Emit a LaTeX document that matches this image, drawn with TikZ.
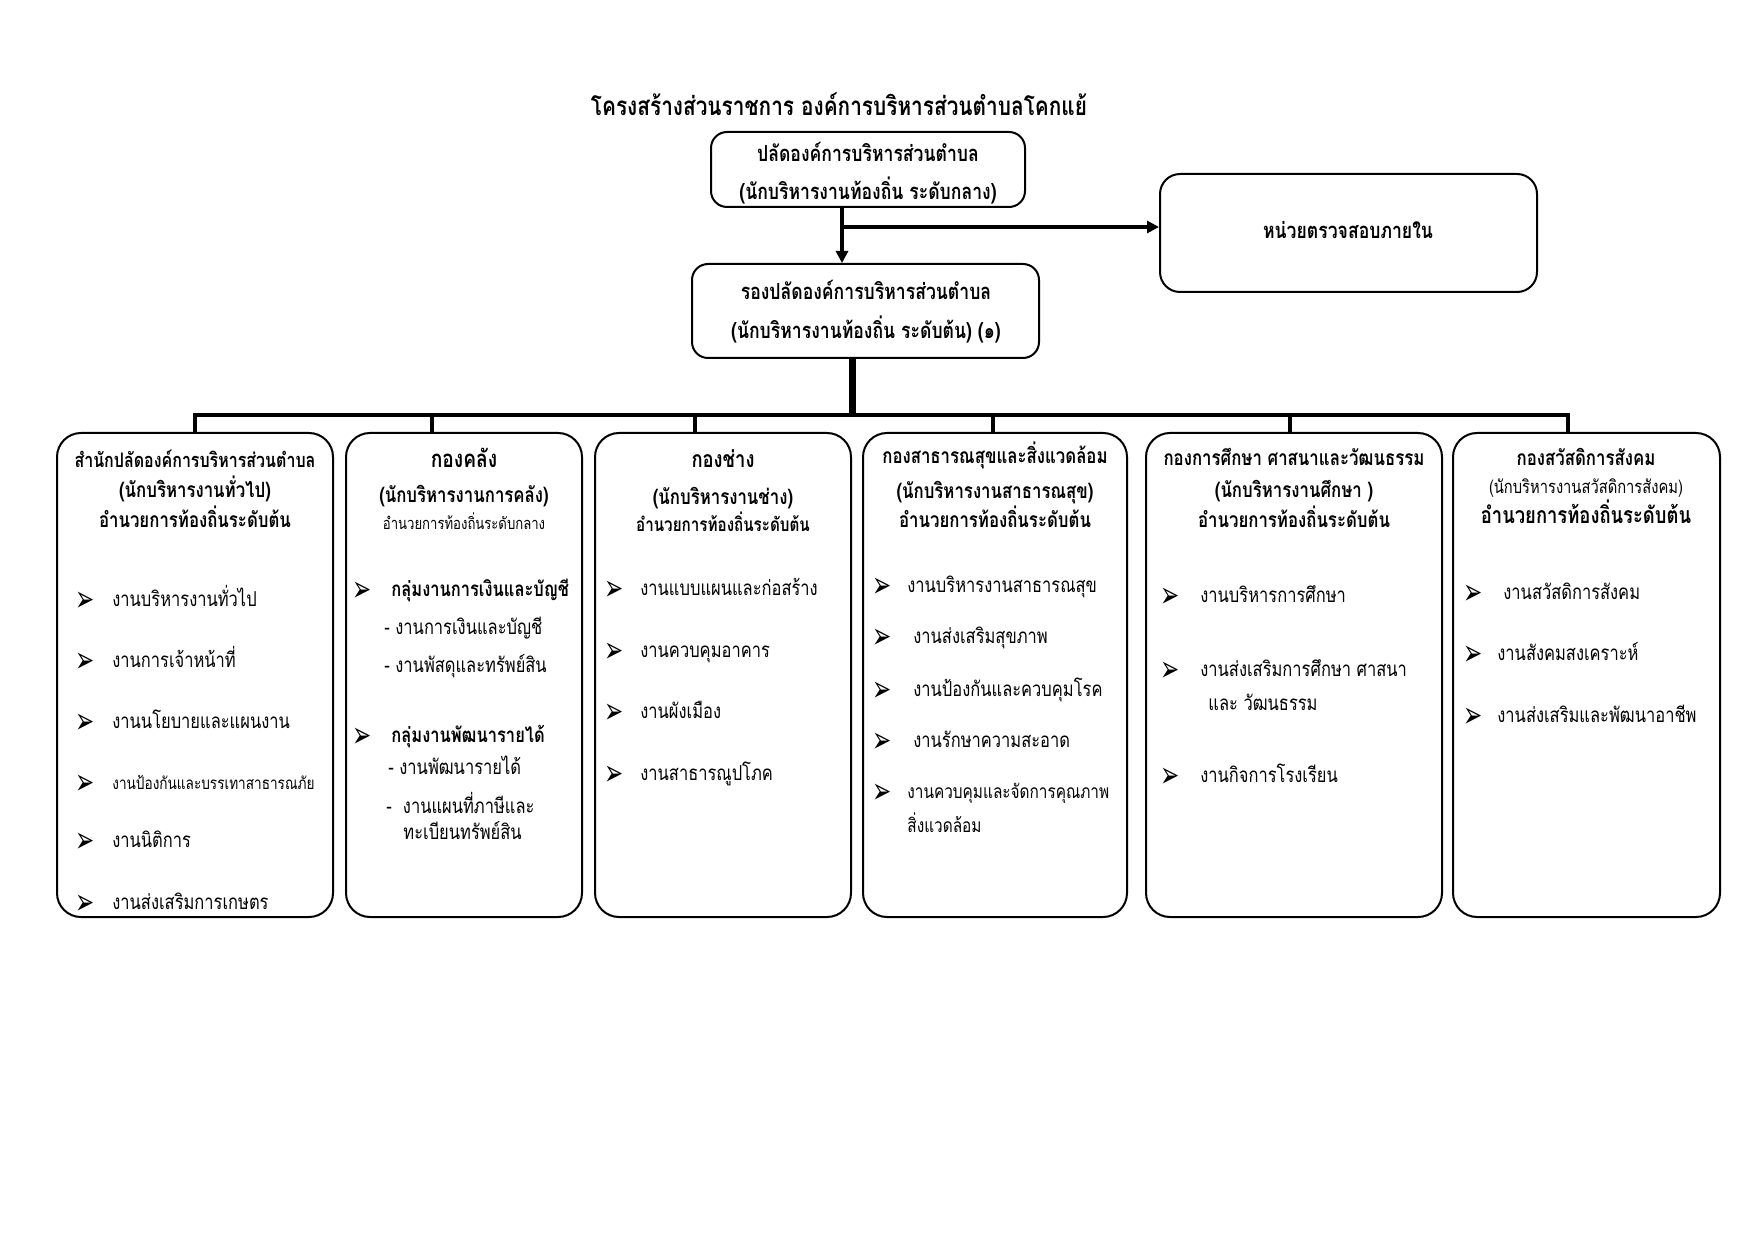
\documentclass[tikz,border=0pt]{standalone}
\usepackage{fontspec}
\usepackage{graphicx}
\setmainfont{Loma}[Script=Thai,FakeStretch=0.8]
\newfontfamily\dejavu{DejaVu Sans}
\usetikzlibrary{arrows.meta}
\newdimen\pxu \pxu=0.5pt
\newcommand\bl[1]{\makebox[#1\pxu][l]{\raisebox{-2.8pt}{\scalebox{0.82}[1.3]{\dejavu\fontsize{14}{14}\selectfont ➢}}}}
\begin{document}
\begin{tikzpicture}[x=0.5pt,y=-0.5pt,
  box/.style={draw,line width=1pt,rounded corners=12pt,inner sep=0pt,minimum height=242pt},
  sbox/.style={draw,line width=1pt,rounded corners=8pt,inner sep=0pt},
  conn/.style={line width=2pt},
  trunk/.style={line width=3.5pt},
  tip/.style={-{Triangle[length=6pt,width=6pt]}},
  ttl/.style={font=\bfseries\fontsize{13}{15}\selectfont,anchor=mid,inner sep=0pt},
  hd/.style={font=\bfseries\fontsize{10.5}{12}\selectfont,anchor=mid,inner sep=0pt},
  hdt/.style={font=\bfseries\fontsize{11}{13}\selectfont,anchor=mid,inner sep=0pt},
  hds/.style={font=\fontsize{8.2}{10}\selectfont,anchor=mid,inner sep=0pt},
  hdsb/.style={font=\bfseries\fontsize{9.5}{11}\selectfont,anchor=mid,inner sep=0pt},
  it/.style={font=\fontsize{10.3}{12}\selectfont,anchor=mid west,inner sep=0pt},
  its/.style={font=\fontsize{8.5}{10}\selectfont,anchor=mid west,inner sep=0pt},
  itb/.style={font=\bfseries\fontsize{10.3}{12}\selectfont,anchor=mid west,inner sep=0pt}]
\useasboundingbox (0,0) rectangle (1754,1240);
\fill[white] (0,0) rectangle (1754,1240);

% title
\node[ttl] (title) at (839,110) {โครงสร้างส่วนราชการ องค์การบริหารส่วนตำบลโคกแย้};

% top boxes
\node[sbox,minimum width=157pt,minimum height=37.5pt] (top) at (868,169.5) {};
\node[hdt] (topa) at (868,156) {ปลัดองค์การบริหารส่วนตำบล};
\node[hdt] (topb) at (868,194) {(นักบริหารงานท้องถิ่น ระดับกลาง)};

\node[sbox,rounded corners=10pt,minimum width=188.5pt,minimum height=59pt] (audit) at (1348.5,233) {};
\node[hdt] (audita) at (1348,233) {หน่วยตรวจสอบภายใน};

\node[sbox,minimum width=173.5pt,minimum height=47pt] (sec) at (865.5,311) {};
\node[hdt] (seca) at (866,294) {รองปลัดองค์การบริหารส่วนตำบล};
\node[hdt] (secb) at (866,333) {(นักบริหารงานท้องถิ่น ระดับต้น) (๑)};

% division boxes
\node[box,minimum width=138pt] (b1) at (195,675) {};
\node[box,minimum width=118pt] (b2) at (464,675) {};
\node[box,minimum width=128pt] (b3) at (723,675) {};
\node[box,minimum width=132pt] (b4) at (995,675) {};
\node[box,minimum width=148pt] (b5) at (1294,675) {};
\node[box,minimum width=133.5pt] (b6) at (1586.5,675) {};

% connectors
\coordinate (j) at (842,227);
\draw[conn,tip] (top.south -| j) -- (sec.north -| j);
\draw[conn,tip] (j) -- (audit.west |- j);
\coordinate (tj) at (852,415);
\draw[trunk] (sec.south -| tj) -- (tj);
\coordinate (t1) at (195,415);
\coordinate (t2) at (432,415);
\coordinate (t3) at (695,415);
\coordinate (t4) at (993,415);
\coordinate (t5) at (1290,415);
\coordinate (t6) at (1568,415);
\draw[conn,line cap=rect] (t1) -- (t6);
\foreach \i in {1,...,6} \draw[conn] (t\i) -- (t\i |- b\i.north);

\begin{scope}[shift={(0,3)}]
% box 1
\node[hd,font=\bfseries\fontsize{10}{12}\selectfont] (h1a) at (195,459) {สำนักปลัดองค์การบริหารส่วนตำบล};
\node[hd] (h1b) at (195,489) {(นักบริหารงานทั่วไป)};
\node[hd] (h1c) at (195,519) {อำนวยการท้องถิ่นระดับต้น};
\node[it] (i1a) at (75,598) {\bl{37}งานบริหารงานทั่วไป};
\node[it] (i1b) at (75,659) {\bl{37}งานการเจ้าหน้าที่};
\node[it] (i1c) at (75,720) {\bl{37}งานนโยบายและแผนงาน};
\node[its] (i1d) at (75,781) {\bl{37}งานป้องกันและบรรเทาสาธารณภัย};
\node[it] (i1e) at (75,839) {\bl{37}งานนิติการ};
\node[it] (i1f) at (75,901) {\bl{37}งานส่งเสริมการเกษตร};

% box 2
\node[hd,font=\bfseries\fontsize{12}{14}\selectfont] (h2a) at (464,459) {กองคลัง};
\node[hd] (h2b) at (464,494) {(นักบริหารงานการคลัง)};
\node[hds] (h2c) at (464,521) {อำนวยการท้องถิ่นระดับกลาง};
\node[itb] (i2a) at (352,588) {\bl{39}กลุ่มงานการเงินและบัญชี};
\node[it] (i2b) at (384,626) {- งานการเงินและบัญชี};
\node[it] (i2c) at (384,664) {- งานพัสดุและทรัพย์สิน};
\node[itb] (i2d) at (352,734) {\bl{39}กลุ่มงานพัฒนารายได้};
\node[it] (i2e) at (388,766) {- งานพัฒนารายได้};
\node[it] (i2f) at (386,805) {-~ งานแผนที่ภาษีและ};
\node[it] (i2g) at (403,831) {ทะเบียนทรัพย์สิน};

% box 3
\node[hd,font=\bfseries\fontsize{11.5}{13}\selectfont] (h3a) at (723,459) {กองช่าง};
\node[hd] (h3b) at (723,496) {(นักบริหารงานช่าง)};
\node[hdsb] (h3c) at (723,523) {อำนวยการท้องถิ่นระดับต้น};
\node[it] (i3a) at (604,587) {\bl{36}งานแบบแผนและก่อสร้าง};
\node[it] (i3b) at (604,649) {\bl{36}งานควบคุมอาคาร};
\node[it] (i3c) at (604,710) {\bl{36}งานผังเมือง};
\node[it] (i3d) at (604,772) {\bl{36}งานสาธารณูปโภค};

% box 4
\node[hd] (h4a) at (995,455) {กองสาธารณสุขและสิ่งแวดล้อม};
\node[hd] (h4b) at (995,490) {(นักบริหารงานสาธารณสุข)};
\node[hd] (h4c) at (995,519) {อำนวยการท้องถิ่นระดับต้น};
\node[it] (i4a) at (872,584) {\bl{35}งานบริหารงานสาธารณสุข};
\node[it] (i4b) at (872,635) {\bl{41}งานส่งเสริมสุขภาพ};
\node[it] (i4c) at (872,688) {\bl{41}งานป้องกันและควบคุมโรค};
\node[it] (i4d) at (872,739) {\bl{41}งานรักษาความสะอาด};
\node[it,font=\fontsize{9.6}{11}\selectfont] (i4e) at (872,790) {\bl{35}งานควบคุมและจัดการคุณภาพ};
\node[it,font=\fontsize{9.6}{11}\selectfont] (i4f) at (907,824) {สิ่งแวดล้อม};

% box 5
\node[hd] (h5a) at (1294,457) {กองการศึกษา ศาสนาและวัฒนธรรม};
\node[hd] (h5b) at (1294,489) {(นักบริหารงานศึกษา )};
\node[hd] (h5c) at (1294,519) {อำนวยการท้องถิ่นระดับต้น};
\node[it] (i5a) at (1160,594) {\bl{40}งานบริหารการศึกษา};
\node[it] (i5b) at (1160,668) {\bl{40}งานส่งเสริมการศึกษา ศาสนา};
\node[it] (i5c) at (1208,702) {และ วัฒนธรรม};
\node[it] (i5d) at (1160,774) {\bl{40}งานกิจการโรงเรียน};

% box 6
\node[hd] (h6a) at (1586,457) {กองสวัสดิการสังคม};
\node[hds,font=\fontsize{9.2}{11}\selectfont] (h6b) at (1586,485) {(นักบริหารงานสวัสดิการสังคม)};
\node[hd,font=\bfseries\fontsize{11.5}{13}\selectfont] (h6c) at (1586,515) {อำนวยการท้องถิ่นระดับต้น};
\node[it] (i6a) at (1463,591) {\bl{40}งานสวัสดิการสังคม};
\node[it] (i6b) at (1463,652) {\bl{34}งานสังคมสงเคราะห์};
\node[it] (i6c) at (1463,714) {\bl{34}งานส่งเสริมและพัฒนาอาชีพ};
\end{scope}
\end{tikzpicture}
\end{document}
